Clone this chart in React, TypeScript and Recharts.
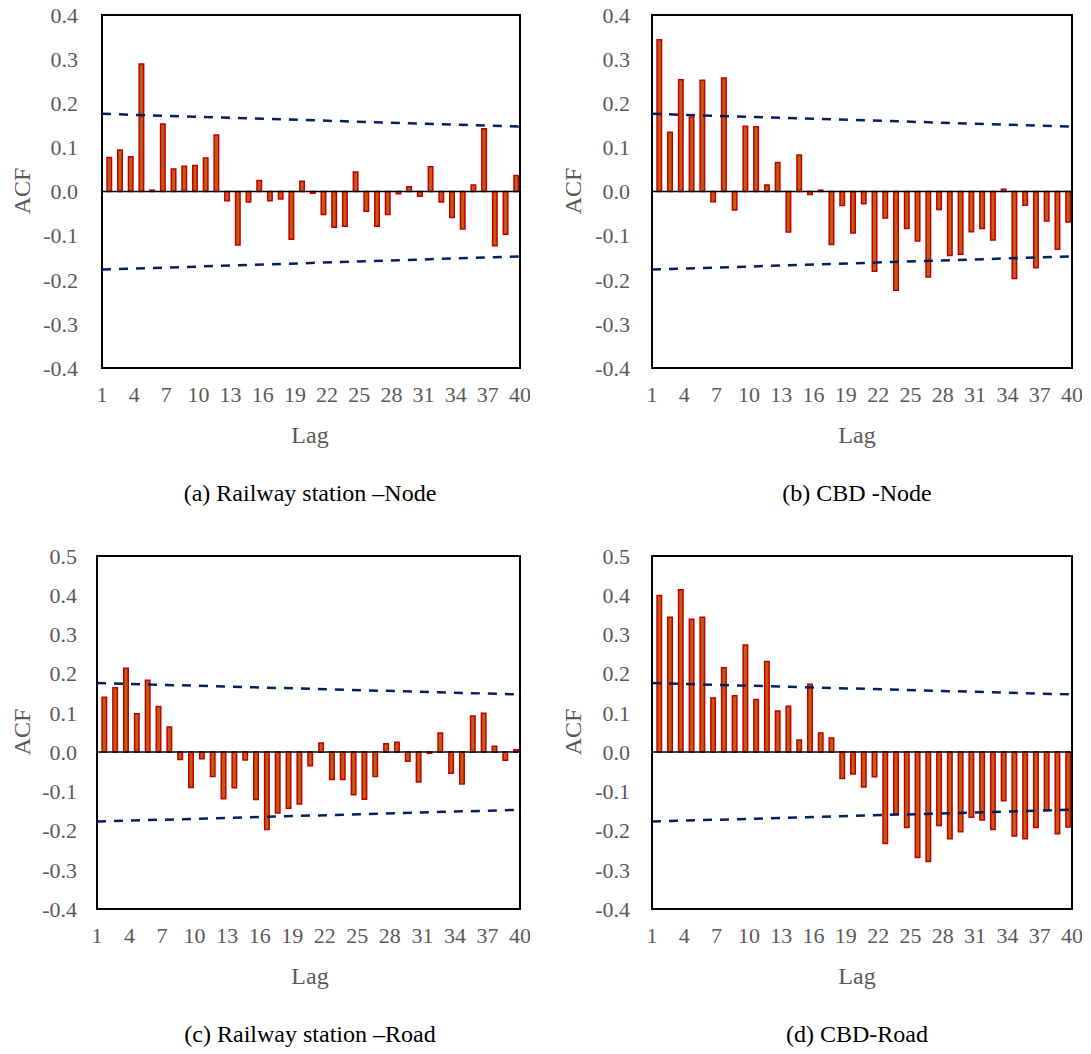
import {
  Bar,
  ComposedChart,
  Line,
  ReferenceArea,
  ReferenceLine,
  XAxis,
  YAxis,
} from "recharts";

const lags = [
  1, 2, 3, 4, 5, 6, 7, 8, 9, 10, 11, 12, 13, 14, 15, 16, 17, 18, 19, 20,
  21, 22, 23, 24, 25, 26, 27, 28, 29, 30, 31, 32, 33, 34, 35, 36, 37, 38, 39, 40,
];
const lagTicks = [1, 4, 7, 10, 13, 16, 19, 22, 25, 28, 31, 34, 37, 40];
const nodeTicks = [-0.4, -0.3, -0.2, -0.1, 0, 0.1, 0.2, 0.3, 0.4];
const roadTicks = [-0.4, -0.3, -0.2, -0.1, 0, 0.1, 0.2, 0.3, 0.4, 0.5];

// lag 1 sits behind the left frame in the source, so it's mostly unseen
const railNode = [
  0.06, 0.077, 0.094, 0.079, 0.289, 0.003, 0.153, 0.051, 0.057, 0.059,
  0.076, 0.128, -0.021, -0.121, -0.024, 0.025, -0.021, -0.017, -0.108, 0.023,
  -0.004, -0.052, -0.081, -0.079, 0.044, -0.045, -0.079, -0.052, -0.005, 0.011,
  -0.011, 0.056, -0.024, -0.059, -0.085, 0.015, 0.142, -0.123, -0.097, 0.036,
];
const cbdNode = [
  null, 0.344, 0.134, 0.253, 0.169, 0.252, -0.023, 0.257, -0.042, 0.148,
  0.147, 0.015, 0.066, -0.092, 0.083, -0.007, 0.003, -0.12, -0.032, -0.094,
  -0.028, -0.181, -0.06, -0.224, -0.084, -0.112, -0.194, -0.041, -0.145, -0.142,
  -0.091, -0.084, -0.11, 0.005, -0.197, -0.031, -0.173, -0.067, -0.131, -0.069,
];
const railRoad = [
  null, 0.14, 0.164, 0.214, 0.098, 0.183, 0.116, 0.064, -0.019, -0.09,
  -0.017, -0.062, -0.119, -0.091, -0.02, -0.121, -0.197, -0.155, -0.143, -0.132,
  -0.035, 0.023, -0.07, -0.07, -0.109, -0.12, -0.062, 0.021, 0.025, -0.023,
  -0.076, -0.003, 0.049, -0.054, -0.081, 0.092, 0.099, 0.015, -0.021, 0.006,
];
const cbdRoad = [
  null, 0.399, 0.344, 0.414, 0.339, 0.344, 0.138, 0.215, 0.144, 0.273,
  0.134, 0.231, 0.105, 0.117, 0.031, 0.173, 0.049, 0.036, -0.067, -0.056,
  -0.089, -0.063, -0.233, -0.157, -0.192, -0.269, -0.279, -0.187, -0.221, -0.203,
  -0.166, -0.173, -0.197, -0.124, -0.214, -0.221, -0.192, -0.148, -0.208, -0.191,
];

// confidence bounds: straight dashed lines, read at both ends
const bandLags = [1, 40];
const bandUpper = [0.176, 0.147];
const bandLower = [-0.177, -0.147];

const gray = "#595959";

function AcfPanel({ caption, values, yTicks, left, top, width, axisWidth, labelGap, centerX }) {
  const rows = lags.map((lag, i) => ({ lag, acf: values[i] }));
  const band = bandLags.map((lag, i) => ({
    lag,
    upper: bandUpper[i],
    lower: bandLower[i],
  }));
  const yMax = yTicks[yTicks.length - 1];

  return (
    <>
      <div style={{ position: "absolute", left, top }}>
        <ComposedChart
          width={width}
          height={420}
          data={rows}
          margin={{ top: 15, right: 10, bottom: 22, left: 0 }}
        >
          <XAxis
            xAxisId="lags"
            type="number"
            dataKey="lag"
            domain={[1, 40]}
            allowDataOverflow
            ticks={lagTicks}
            interval={0}
            height={30}
            axisLine={false}
            tickLine={false}
            tickSize={0}
            tickMargin={18}
            tick={{ fill: gray, fontSize: 22 }}
          />
          <XAxis
            xAxisId="bars"
            type="number"
            dataKey="lag"
            domain={[1.31, 40.34]}
            allowDataOverflow
            height={0}
            hide
          />
          <YAxis
            type="number"
            domain={[-0.4, yMax]}
            allowDataOverflow
            ticks={yTicks}
            interval={0}
            width={axisWidth}
            axisLine={false}
            tickLine={false}
            tickSize={0}
            tickMargin={labelGap}
            tick={{ fill: gray, fontSize: 22 }}
            tickFormatter={(v: number) => v.toFixed(1)}
          />

          <Bar
            xAxisId="bars"
            dataKey="acf"
            barSize={4.5}
            fill="#C55A11"
            stroke="#C00000"
            strokeWidth={1.5}
            isAnimationActive={false}
          />

          <ReferenceLine xAxisId="lags" y={0} stroke="#000" strokeWidth={1.5} />

          <Line
            xAxisId="lags"
            data={band}
            dataKey="upper"
            stroke="#002060"
            strokeWidth={2.5}
            strokeDasharray="9 8"
            dot={false}
            isAnimationActive={false}
          />
          <Line
            xAxisId="lags"
            data={band}
            dataKey="lower"
            stroke="#002060"
            strokeWidth={2.5}
            strokeDasharray="9 8"
            dot={false}
            isAnimationActive={false}
          />

          <ReferenceArea
            xAxisId="lags"
            x1={1}
            x2={40}
            y1={-0.4}
            y2={yMax}
            fill="none"
            stroke="#000"
            strokeWidth={2}
          />
        </ComposedChart>
      </div>

      {/* axis titles + caption */}
      <div
        style={{
          position: "absolute",
          left: left + 22,
          top: top + 191,
          transform: "translate(-50%, -50%) rotate(-90deg)",
          fontSize: 24,
          color: gray,
          whiteSpace: "nowrap",
        }}
      >
        ACF
      </div>
      <div
        style={{
          position: "absolute",
          left: centerX,
          top: top + 435,
          transform: "translate(-50%, -50%)",
          fontSize: 24,
          color: gray,
          whiteSpace: "nowrap",
        }}
      >
        Lag
      </div>
      <div
        style={{
          position: "absolute",
          left: centerX,
          top: top + 493,
          transform: "translate(-50%, -50%)",
          fontSize: 24,
          color: "#000",
          whiteSpace: "nowrap",
        }}
      >
        {caption}
      </div>
    </>
  );
}

export default function App() {
  return (
    <div
      style={{
        position: "absolute",
        left: 0,
        top: 0,
        width: 1091,
        height: 1054,
        background: "#fff",
        fontFamily: "'Liberation Serif', 'Times New Roman', serif",
      }}
    >
      <AcfPanel
        caption="(a) Railway station –Node"
        values={railNode}
        yTicks={nodeTicks}
        left={0}
        top={0}
        width={530}
        axisWidth={102}
        labelGap={24}
        centerX={310}
      />
      <AcfPanel
        caption="(b) CBD -Node"
        values={cbdNode}
        yTicks={nodeTicks}
        left={551}
        top={0}
        width={531}
        axisWidth={101}
        labelGap={22}
        centerX={857}
      />
      <AcfPanel
        caption="(c) Railway station –Road"
        values={railRoad}
        yTicks={roadTicks}
        left={0}
        top={541}
        width={530}
        axisWidth={97}
        labelGap={20}
        centerX={310}
      />
      <AcfPanel
        caption="(d) CBD-Road"
        values={cbdRoad}
        yTicks={roadTicks}
        left={551}
        top={541}
        width={531}
        axisWidth={101}
        labelGap={22}
        centerX={857}
      />
    </div>
  );
}
